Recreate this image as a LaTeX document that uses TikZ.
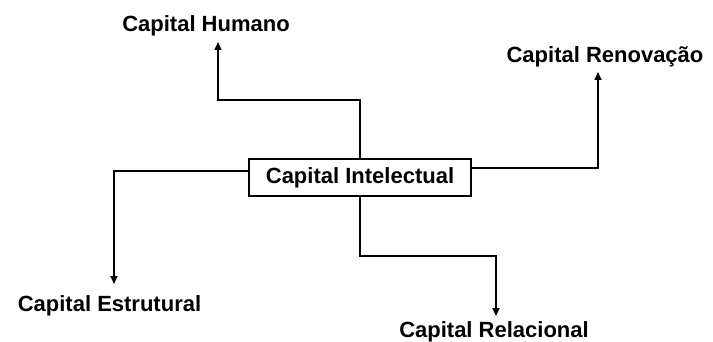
\documentclass[tikz,border=0pt]{standalone}
\usepackage{fontspec}
\setmainfont{Liberation Sans}
\usetikzlibrary{arrows.meta}
\begin{document}
\begin{tikzpicture}[x=1pt,y=-1pt,
  lbl/.style={font=\fontsize{22}{26}\selectfont\bfseries, inner sep=0pt, anchor=base},
  centre/.style={draw, line width=1.6pt, font=\fontsize{22}{26}\selectfont\bfseries,
    minimum width=222pt, minimum height=37pt, inner sep=0pt},
  link/.style={line width=1.6pt, -{Triangle[length=8pt,width=7pt]}}]
\useasboundingbox (0,0) rectangle (713,342);

% central concept
\node[centre] (ci) at (360,177.5) {Capital Intelectual};

% component labels
\node[lbl] (hum) at (206,32) {Capital Humano};
\node[lbl] (ren) at (605,63) {Capital Renovação};
\node[lbl] (est) at (109.5,312) {Capital Estrutural};
\node[lbl] (rel) at (494,337) {Capital Relacional};

% bends and arrow tips
\coordinate (hBend) at (360,100);
\coordinate (hTip) at (218,42);
\coordinate (rTip) at (598,72);
\coordinate (eTip) at (114,284);
\coordinate (lBend) at (360,256);
\coordinate (lTip) at (496,316);

% connectors
\draw[link] (ci.north) -- (hBend) -| (hTip);
\draw[link] ([yshift=9.5pt]ci.east) -| (rTip);
\draw[link] ([yshift=6.5pt]ci.west) -| (eTip);
\draw[link] (ci.south) -- (lBend) -| (lTip);
\end{tikzpicture}
\end{document}
